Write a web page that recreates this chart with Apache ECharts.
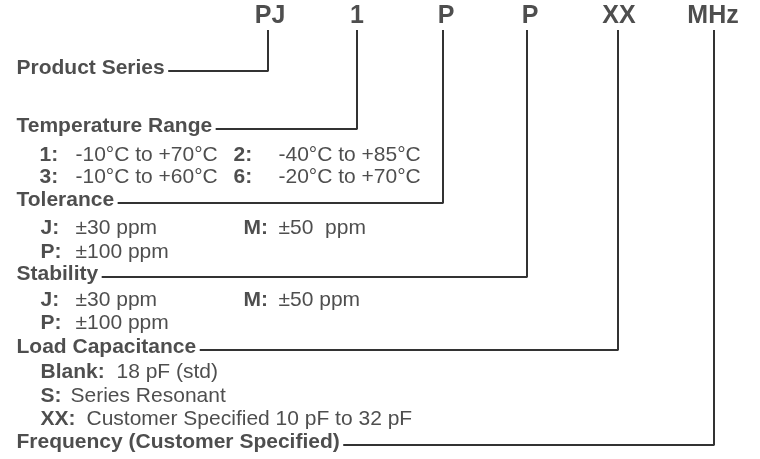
<!DOCTYPE html>
<html>
<head>
<meta charset="utf-8">
<script src="https://cdn.jsdelivr.net/npm/echarts@6/dist/echarts.min.js"></script>
<style>
  html, body { margin: 0; padding: 0; background: #fff; }
  #chart { width: 760px; height: 459px; }
</style>
</head>
<body>
<div id="chart"></div>
<script>
// part number codes along the top
const codes = ['PJ', '1', 'P', 'P', 'XX', 'MHz']
const codeX = [270, 357, 446, 530, 619, 713]
const codeLineX = [268, 357, 443, 527, 618, 714]

// one section title per code, with the level of its leader line
const sections = ['Product Series', 'Temperature Range', 'Tolerance', 'Stability', 'Load Capacitance', 'Frequency (Customer Specified)']
const sectionY = [71, 129, 203, 277, 350, 445]

// option rows: bold key, regular text, where they sit
const optKeys = ['1:', '2:', '3:', '6:', 'J:', 'M:', 'P:', 'J:', 'M:', 'P:', 'Blank:', 'S:', 'XX:']
const optText = ['-10°C to +70°C', '-40°C to +85°C', '-10°C to +60°C', '-20°C to +70°C',
  '±30 ppm', '±50  ppm', '±100 ppm',
  '±30 ppm', '±50 ppm', '±100 ppm',
  '18 pF (std)', 'Series Resonant', 'Customer Specified 10 pF to 32 pF']
const optKeyX = [39, 233, 39, 233, 40, 243, 40, 40, 243, 40, 40, 40, 40]
const optTextX = [75, 278, 75, 278, 75, 278, 75, 75, 278, 75, 116, 70, 86]
const optY = [155, 155, 177, 177, 228, 228, 252, 300, 300, 323, 372, 396, 419]

const FONT = "'Liberation Sans', Arial, sans-serif"
const INK = '#222'
const LINE = '#333'
const SIZE = 21
const titleLeft = 16
const codeY = 16
const lineTop = 30

// measure the titles so leader lines start right after the text
const ctx = document.createElement('canvas').getContext('2d')
ctx.font = 'bold ' + SIZE + 'px ' + FONT
const titleEnd = sections.map(s => titleLeft + ctx.measureText(s).width + 4)

const chart = echarts.init(document.getElementById('chart'))

const leaders = sections.map((s, i) => ({
  type: 'line',
  silent: true,
  symbol: 'none',
  lineStyle: { color: LINE, width: 2 },
  data: [[titleEnd[i], sectionY[i]], [codeLineX[i], sectionY[i]], [codeLineX[i], lineTop]]
}))

function textSeries(points, opts) {
  return {
    type: 'scatter',
    silent: true,
    symbolSize: 1,
    itemStyle: { color: 'rgba(0,0,0,0)' },
    data: points,
    label: Object.assign({
      show: true,
      formatter: '{b}',
      color: INK,
      fontFamily: FONT,
      fontSize: SIZE
    }, opts)
  }
}

chart.setOption({
  animation: false,
  grid: { left: 0, right: 0, top: 0, bottom: 0 },
  xAxis: { type: 'value', min: 0, max: 760, show: false },
  yAxis: { type: 'value', min: 0, max: 459, inverse: true, show: false },
  series: [
    ...leaders,
    textSeries(codes.map((c, i) => ({ name: c, value: [codeX[i], codeY] })),
      { position: 'inside', fontSize: 25, fontWeight: 'bold' }),
    textSeries(sections.map((s, i) => ({ name: s, value: [titleLeft, sectionY[i] - 3] })),
      { position: 'right', distance: 0, fontWeight: 'bold' }),
    textSeries(optKeys.map((k, i) => ({ name: k, value: [optKeyX[i], optY[i]] })),
      { position: 'right', distance: 0, fontWeight: 'bold' }),
    textSeries(optText.map((t, i) => ({ name: t, value: [optTextX[i], optY[i]] })),
      { position: 'right', distance: 0 })
  ]
})
</script>
</body>
</html>
